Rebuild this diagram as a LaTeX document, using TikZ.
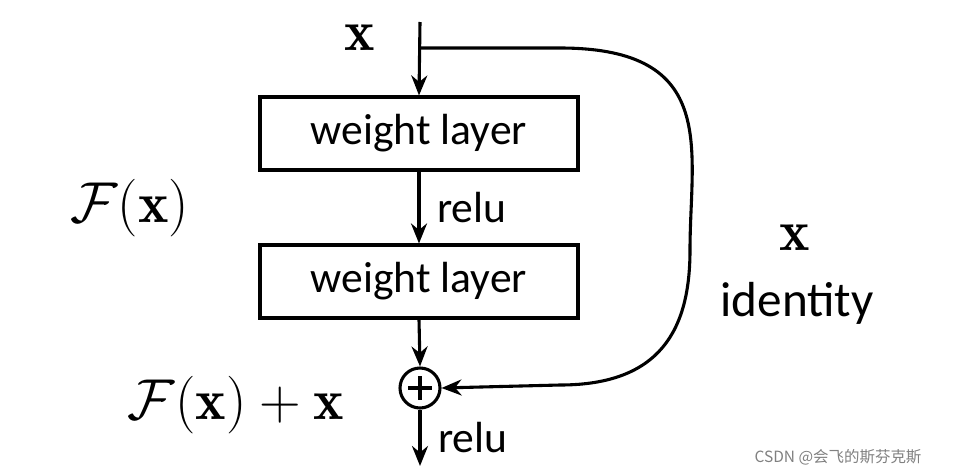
\documentclass[tikz,border=0pt]{standalone}
\usepackage{fix-cm}
\usepackage{fontspec}
\newfontfamily\calib{Carlito}
\newfontfamily\cjk{Noto Sans CJK SC}
\usetikzlibrary{arrows.meta}
\usetikzlibrary{positioning}

\begin{document}
\begin{tikzpicture}[x=0.025cm,y=-0.025cm]

		\tikzstyle{block} = [rectangle, draw, line width=2.2pt, minimum width=318*0.025cm, minimum height=73*0.025cm, font=\calib\fontsize{31}{35}\selectfont]
		\tikzstyle{word} = [font=\calib\fontsize{31}{35}\selectfont]
		\tikzstyle{big} = [font=\fontsize{41}{45}\selectfont]
		\tikzstyle{line} = [draw, line width=2.2pt, -{Stealth[length=5mm,width=4mm]}]

		\useasboundingbox (0,0) rectangle (960,475);

		% blocks
		\coordinate (in) at (420,22);
		\node [block] (w1) at (419,133.5) {weight layer};
		\node [block] (w2) at (419,281.5) {weight layer};
		\node [circle,draw,line width=2.2pt,minimum size=40*0.025cm,inner sep=0pt] (sum) at (420,388) {};
		\draw [line width=2.2pt] (420,376) -- (420,400) (408,388) -- (432,388);
		\coordinate (out) at (420,466);

		% arrows
		\draw [line] (in) -- (w1.north);
		\draw [line] (w1.south) -- node[word,right=0.3cm] {relu} (w2.north);
		\draw [line] (w2.south) -- (sum.north);
		\draw [line] (sum.south) -- node[word,right=0.3cm] {relu} (out);
		\draw [line] (420,48) -- (560,48) .. controls (720,48) and (690,150) .. (690,250)
			.. controls (690,330) and (660,385) .. (560,385) -- (sum.east);

		% labels
		\node [big] (xin) at (360,38) {$\mathbf{x}$};
		\node [big] (fx) at (130,208) {$\mathcal{F}(\mathbf{x})$};
		\node [big] (fxx) at (236,405) {$\mathcal{F}(\mathbf{x})+\mathbf{x}$};
		\node [big] (xid) at (795,238) {$\mathbf{x}$};
		\node [font=\calib\fontsize{35}{39}\selectfont] (id) at (797,303) {identity};
		\node [text=gray,font=\cjk\fontsize{11}{13}\selectfont] (wm) at (838,457) {CSDN @会飞的斯芬克斯};

\end{tikzpicture}
\end{document}
